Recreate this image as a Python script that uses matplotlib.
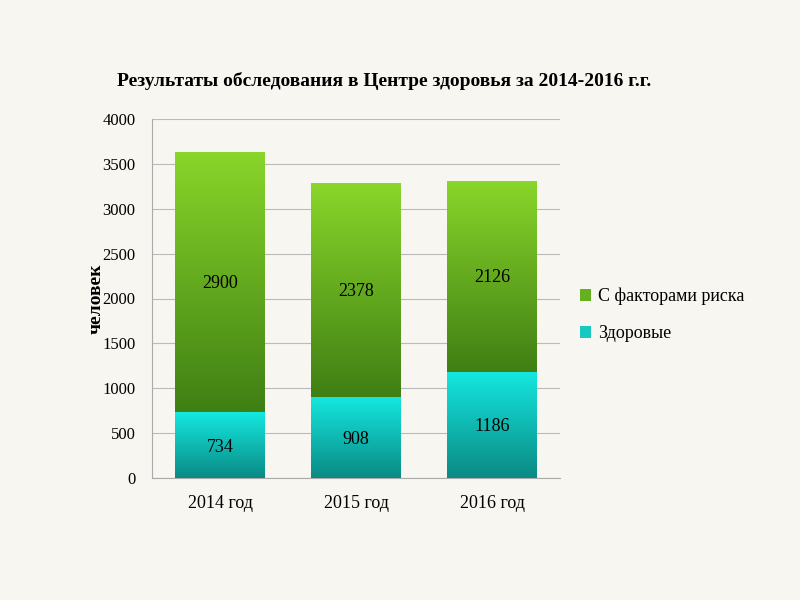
import matplotlib
matplotlib.use("Agg")
import matplotlib.pyplot as plt
import numpy as np
from matplotlib.colors import LinearSegmentedColormap

categories = ["2014 год", "2015 год", "2016 год"]
healthy = [734, 908, 1186]
risk = [2900, 2378, 2126]
title = "Результаты обследования в Центре здоровья за 2014-2016 г.г."

plt.rcParams['font.family'] = ['Liberation Serif', 'DejaVu Serif']
fig = plt.figure(figsize=(8, 6), dpi=100)
fig.patch.set_facecolor("#f8f6f0")
ax = fig.add_axes([0.19, 0.203, 0.51, 0.599])
ax.set_facecolor("none")

x = np.arange(len(categories))
w = 0.66
teal = LinearSegmentedColormap.from_list("t", ["#0a8a84", "#14e8e0"])
green = LinearSegmentedColormap.from_list("g", ["#3f7f14", "#8ad62a"])
grad = np.linspace(0, 1, 256).reshape(-1, 1)

b1 = ax.bar(x, healthy, w, color="#16c8c0", label="Здоровые", zorder=2)
b2 = ax.bar(x, risk, w, bottom=healthy, color="#66b020", label="С факторами риска", zorder=2)
for bars, cm in ((b1, teal), (b2, green)):
    for p in bars:
        x0, y0 = p.get_x(), p.get_y()
        im = ax.imshow(grad, cmap=cm, origin="lower", aspect="auto",
                       extent=[x0, x0 + p.get_width(), y0, y0 + p.get_height()], zorder=3)
        im.set_clip_path(p)
for i in range(3):
    ax.text(x[i], healthy[i] / 2 - 20, str(healthy[i]), ha="center", va="center", fontsize=13, zorder=5)
    ax.text(x[i], healthy[i] + risk[i] / 2 - 20, str(risk[i]), ha="center", va="center", fontsize=13, zorder=5)

ax.set_xlim(-0.5, 2.5)
ax.set_ylim(0, 4000)
ax.set_yticks(range(0, 4001, 500))
ax.yaxis.grid(True, color="#bbbbbb", lw=0.8, zorder=0)
ax.set_axisbelow(True)
ax.set_xticks(x)
ax.set_xticklabels(categories, fontsize=13)
ax.tick_params(axis="y", labelsize=12, length=0, pad=12)
ax.tick_params(axis="x", length=0, pad=12)
for s in ("top", "right"):
    ax.spines[s].set_visible(False)
ax.spines["left"].set_color("#aaaaaa")
ax.spines["bottom"].set_color("#aaaaaa")
ax.set_ylabel("человек", fontsize=14, fontweight="bold", labelpad=-2)
fig.text(0.48, 0.865, title, ha="center", va="center", fontsize=14, fontweight="bold")

h, l = ax.get_legend_handles_labels()
fig.legend(h[::-1], l[::-1], loc="center left", bbox_to_anchor=(0.705, 0.475),
           frameon=False, fontsize=13, handlelength=0.6, handleheight=0.6,
           labelspacing=1.1, handletextpad=0.4)
fig.savefig("out.png", dpi=100, facecolor=fig.get_facecolor())
